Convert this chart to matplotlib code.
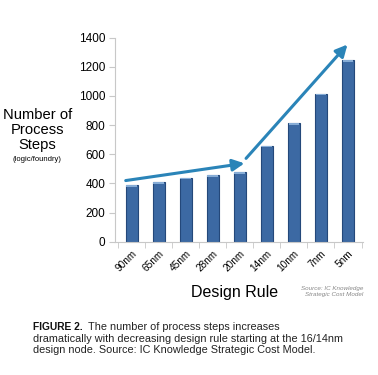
import numpy as np
import matplotlib.pyplot as plt

plt.rcParams['font.family'] = ['Liberation Sans', 'DejaVu Sans']

nodes = ['90nm', '65nm', '45nm', '28nm', '20nm', '14nm', '10nm', '7nm', '5nm']
steps = [390, 410, 440, 455, 480, 660, 812, 1015, 1245]
yticks = [0, 200, 400, 600, 800, 1000, 1200, 1400]

# trend arrows (x in category index, y in steps)
arrow1 = [(-0.22, 420), (4.17, 538)]
arrow2 = [(4.23, 572), (7.98, 1352)]

fig = plt.figure(figsize=(3.78, 3.75), dpi=100)
ax = fig.add_axes([0.304, 0.355, 0.656, 0.545])

x = np.arange(len(nodes))
ax.bar(x, steps, width=0.44, color='#3c69a3', edgecolor='#24487a', linewidth=0.8, zorder=2)
ax.bar(x, [12] * len(x), bottom=np.array(steps) - 12, width=0.40, color='#86acd6',
       linewidth=0, zorder=3)

for (x0, y0), (x1, y1) in [arrow1, arrow2]:
    ax.annotate('', xy=(x1, y1), xytext=(x0, y0),
                arrowprops=dict(arrowstyle='-|>,head_length=0.7,head_width=0.35',
                                color='#2a84b8', lw=2.2, shrinkA=0, shrinkB=0),
                zorder=4)

ax.set_xlim(-0.62, 8.55)
ax.set_ylim(0, 1400)
ax.set_yticks(yticks)
ax.set_yticklabels([str(v) for v in yticks], fontsize=8.5)
ax.set_xticks(x)
ax.set_xticklabels(nodes, rotation=45, ha='right', va='top', rotation_mode='anchor', fontsize=7.2)
ax.set_xticks(np.arange(-0.5, len(nodes)), minor=True)
ax.tick_params(axis='x', which='major', length=0, pad=5)
ax.tick_params(axis='x', which='minor', length=4, color='#c8c8c8', direction='out')
ax.tick_params(axis='y', length=4, color='#c8c8c8', pad=3)
for s in ['top', 'right']:
    ax.spines[s].set_visible(False)
ax.spines['left'].set_color('#c8c8c8')
ax.spines['bottom'].set_color('#c8c8c8')

fig.text(0.099, 0.653, 'Number of\nProcess\nSteps', ha='center', va='center',
         fontsize=10.6, linespacing=1.12)
fig.text(0.099, 0.576, '(logic/foundry)', ha='center', va='center', fontsize=5.5)
fig.text(0.62, 0.221, 'Design Rule', ha='center', va='center', fontsize=11.5)
fig.text(0.96, 0.222, 'Source: IC Knowledge\nStrategic Cost Model', ha='right', va='center',
         fontsize=4.5, style='italic', color='#888888', linespacing=1.3)

fig.text(0.088, 0.128, 'FIGURE 2.', ha='left', va='center', fontsize=7.4,
         fontweight='bold', color='#111111')
fig.text(0.232, 0.128, 'The number of process steps increases', ha='left', va='center',
         fontsize=7.8, color='#222222')
fig.text(0.088, 0.097, 'dramatically with decreasing design rule starting at the 16/14nm',
         ha='left', va='center', fontsize=7.8, color='#222222')
fig.text(0.088, 0.067, 'design node. Source: IC Knowledge Strategic Cost Model.',
         ha='left', va='center', fontsize=7.8, color='#222222')

fig.savefig('out.png', dpi=100)
